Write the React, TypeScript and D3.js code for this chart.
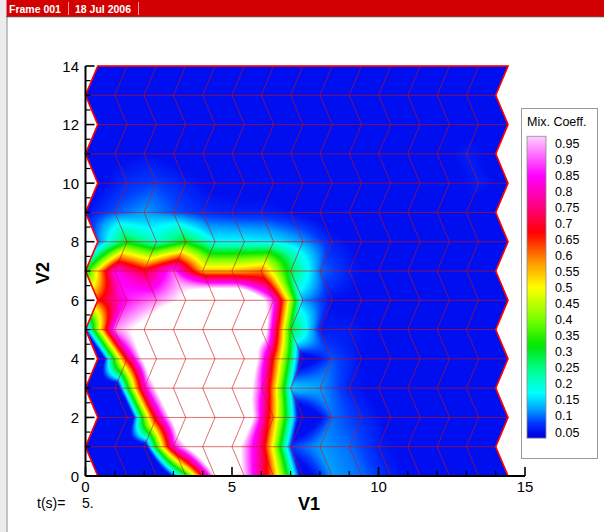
import React, { useMemo } from 'react';
import * as d3 from 'd3';

const W = 604;
const H = 532;
const FONT = '"Liberation Sans", Arial, Helvetica, sans-serif';

// Tick values and labels
const V1_MAJOR = [0, 5, 10, 15];
const V1_MINOR = [1, 2, 3, 4, 6, 7, 8, 9, 11, 12, 13, 14];
const V2_MAJOR = [0, 2, 4, 6, 8, 10, 12, 14];
const V2_MINOR = [0.5, 1, 1.5, 2.5, 3, 3.5, 4.5, 5, 5.5, 6.5, 7, 7.5, 8.5, 9, 9.5, 10.5, 11, 11.5, 12.5, 13, 13.5];
const LEGEND_LEVELS = [0.95, 0.9, 0.85, 0.8, 0.75, 0.7, 0.65, 0.6, 0.55, 0.5, 0.45, 0.4, 0.35, 0.3, 0.25, 0.2, 0.15, 0.1, 0.05];
const LEGEND_LABELS = ['0.95', '0.9', '0.85', '0.8', '0.75', '0.7', '0.65', '0.6', '0.55', '0.5', '0.45', '0.4', '0.35', '0.3', '0.25', '0.2', '0.15', '0.1', '0.05'];

// Mesh: 15 rows (V2 = 0..14) of 15 nodes; even rows are shifted right in V1
const ROW_SHIFT = 0.42;
const NODE_COUNT = 15;

// Mixing coefficient at mesh nodes, row by row (V2 = 0 at first row).
// Values outside the legend range are flooded with the end colours.
const MIX_ROWS: number[][] = [
  /* V2=0  */ [-0.05, -0.1, -0.15, 0.26, 1.0, 0.97, 0.58, 0.0, 0.12, 0.1, 0.06, 0.04, 0.04, 0.04, 0.04],
  /* V2=1  */ [-0.05, -0.05, -0.03, 0.84, 1.2, 1.1, 0.75, 0.08, 0.12, 0.1, 0.06, 0.04, 0.04, 0.04, 0.04],
  /* V2=2  */ [-0.1, -0.15, 0.74, 1.3, 1.3, 1.2, 0.57, -0.05, 0.1, 0.07, 0.04, 0.04, 0.04, 0.04, 0.04],
  /* V2=3  */ [-0.05, -0.1, 0.81, 1.3, 1.3, 1.3, 0.87, 0.15, 0.12, 0.06, 0.04, 0.04, 0.04, 0.04, 0.04],
  /* V2=4  */ [-0.15, 0.7, 1.3, 1.3, 1.3, 1.3, 0.65, 0.0, 0.09, 0.05, 0.04, 0.04, 0.05, 0.04, 0.04],
  /* V2=5  */ [0.08, 0.93, 1.05, 1.3, 1.3, 1.3, 1.15, 0.3, 0.06, 0.06, 0.04, 0.04, 0.04, 0.04, 0.04],
  /* V2=6  */ [0.66, 0.86, 0.93, 1.02, 1.3, 1.3, 0.88, 0.12, 0.05, 0.04, 0.04, 0.04, 0.04, 0.04, 0.04],
  /* V2=7  */ [0.29, 0.85, 0.7, 0.9, 0.55, 0.55, 0.6, 0.28, 0.1, 0.06, 0.04, 0.04, 0.04, 0.04, 0.04],
  /* V2=8  */ [0.1, 0.3, 0.2, 0.3, 0.17, 0.17, 0.16, 0.12, 0.06, 0.04, 0.04, 0.04, 0.04, 0.04, 0.04],
  /* V2=9  */ [0.05, 0.09, 0.12, 0.09, 0.07, 0.06, 0.06, 0.05, 0.04, 0.04, 0.04, 0.04, 0.04, 0.04, 0.04],
  /* V2=10 */ [0.04, 0.07, 0.08, 0.06, 0.04, 0.04, 0.04, 0.04, 0.04, 0.04, 0.04, 0.04, 0.04, 0.06, 0.04],
  /* V2=11 */ [0.04, 0.04, 0.05, 0.04, 0.04, 0.04, 0.04, 0.04, 0.04, 0.04, 0.04, 0.04, 0.04, 0.06, 0.04],
  /* V2=12 */ [0.04, 0.04, 0.04, 0.04, 0.04, 0.04, 0.04, 0.04, 0.04, 0.04, 0.04, 0.04, 0.04, 0.04, 0.04],
  /* V2=13 */ [0.04, 0.04, 0.04, 0.04, 0.04, 0.04, 0.04, 0.04, 0.04, 0.04, 0.04, 0.04, 0.04, 0.04, 0.04],
  /* V2=14 */ [0.04, 0.04, 0.04, 0.04, 0.04, 0.04, 0.04, 0.04, 0.04, 0.04, 0.04, 0.04, 0.04, 0.04, 0.04],
];

// Rainbow colour map
const CMAP_STOPS = [0.0, 0.04, 0.08, 0.12, 0.17, 0.24, 0.32, 0.4, 0.5, 0.58, 0.67, 0.76, 0.85, 0.92, 1.0];
const CMAP_COLORS = [
  '#0000aa', '#0000eb', '#003cff', '#00a0ff', '#00ffff', '#00ff96', '#00e600', '#78ff00',
  '#ffff00', '#ff9600', '#ff0000', '#ff008c', '#ff00ff', '#ff78ff', '#ffffff',
];
const FLOOD_MIN = 0.05;
const FLOOD_MAX = 1.0;

const xScale = d3.scaleLinear().domain([0, 15]).range([85.5, 525]);
const yScale = d3.scaleLinear().domain([0, 14]).range([476, 66]);
const color = d3.scaleLinear<string>().domain(CMAP_STOPS).range(CMAP_COLORS).interpolate(d3.interpolateRgb).clamp(true);
const legendY = d3.scaleLinear().domain([0.05, 0.95]).range([432, 143.3]);

const rowOffset = (j: number) => (j % 2 === 0 ? ROW_SHIFT : 0);
const nodeX = (i: number, j: number) => i + rowOffset(j);

function renderField(): string {
  const canvas = document.createElement('canvas');
  canvas.width = W;
  canvas.height = H;
  const ctx = canvas.getContext('2d');
  if (!ctx) return '';
  const img = ctx.createImageData(W, H);
  const LUT_N = 2000;
  const lutLo = -0.5;
  const lutHi = 1.5;
  const lut: [number, number, number][] = [];
  for (let k = 0; k <= LUT_N; k++) {
    const val = lutLo + (k / LUT_N) * (lutHi - lutLo);
    const c = d3.rgb(color(Math.max(FLOOD_MIN, Math.min(FLOOD_MAX, val))));
    lut.push([c.r, c.g, c.b]);
  }
  const nRows = MIX_ROWS.length;
  const px0 = Math.floor(xScale(0)) - 1;
  const px1 = Math.ceil(xScale(15)) + 1;
  const py0 = Math.floor(yScale(14)) - 1;
  const py1 = Math.ceil(yScale(0)) + 1;
  for (let py = py0; py <= py1; py++) {
    const y = yScale.invert(py + 0.5);
    if (y < 0 || y > nRows - 1) continue;
    const j = Math.min(nRows - 2, Math.floor(y));
    const v = y - j;
    const o0 = rowOffset(j);
    const o1 = rowOffset(j + 1);
    for (let px = px0; px <= px1; px++) {
      const x = xScale.invert(px + 0.5);
      const xr = x - (o0 + v * (o1 - o0));
      if (xr < 0 || xr > NODE_COUNT - 1) continue;
      const i = Math.min(NODE_COUNT - 2, Math.floor(xr));
      const u = xr - i;
      const r0 = MIX_ROWS[j];
      const r1 = MIX_ROWS[j + 1];
      const val =
        (1 - u) * (1 - v) * r0[i] + u * (1 - v) * r0[i + 1] + (1 - u) * v * r1[i] + u * v * r1[i + 1];
      const k = Math.max(0, Math.min(LUT_N, Math.round(((val - lutLo) / (lutHi - lutLo)) * LUT_N)));
      const c = lut[k];
      const idx = (py * W + px) * 4;
      img.data[idx] = c[0];
      img.data[idx + 1] = c[1];
      img.data[idx + 2] = c[2];
      img.data[idx + 3] = 255;
    }
  }
  ctx.putImageData(img, 0, 0);
  return canvas.toDataURL();
}

export default function App() {
  const fieldUrl = useMemo(() => renderField(), []);

  const nRows = MIX_ROWS.length;
  const rowsIdx = d3.range(nRows);
  const colsIdx = d3.range(NODE_COUNT);

  const line = d3
    .line<[number, number]>()
    .x((d) => xScale(d[0]))
    .y((d) => yScale(d[1]));

  const hLines = rowsIdx.map((j) =>
    line([
      [nodeX(0, j), j],
      [nodeX(NODE_COUNT - 1, j), j],
    ])
  );
  const vLines = colsIdx.map((i) => line(rowsIdx.map((j) => [nodeX(i, j), j] as [number, number])));

  const outlinePts: [number, number][] = [
    ...colsIdx.map((i) => [nodeX(i, 0), 0] as [number, number]),
    ...rowsIdx.map((j) => [nodeX(NODE_COUNT - 1, j), j] as [number, number]),
    ...colsIdx.slice().reverse().map((i) => [nodeX(i, nRows - 1), nRows - 1] as [number, number]),
    ...rowsIdx.slice().reverse().map((j) => [nodeX(0, j), j] as [number, number]),
  ];
  const outline = line(outlinePts) + 'Z';

  const gradId = 'legendGrad';
  const barTop = legendY(0.972);
  const barBot = legendY(0.031);
  const gradStops = d3.range(0, 61).map((k) => {
    const t = k / 60;
    const val = 0.972 - t * (0.972 - 0.031);
    return { offset: t, c: color(val) };
  });

  return (
    <svg
      width={W}
      height={H}
      style={{ position: 'absolute', left: 0, top: 0, fontFamily: FONT }}
      xmlns="http://www.w3.org/2000/svg"
    >
      <defs>
        <linearGradient id={gradId} x1="0" y1="0" x2="0" y2="1">
          {gradStops.map((s, k) => (
            <stop key={k} offset={s.offset} stopColor={s.c} />
          ))}
        </linearGradient>
      </defs>
      <rect x={0} y={0} width={W} height={H} fill="#ffffff" />
      {/* window frame */}
      <rect x={0} y={0} width={6.5} height={H} fill="#ececec" />
      <line x1={7} y1={16} x2={7} y2={H} stroke="#8a8a8a" strokeWidth={1} />
      {/* top bar */}
      <rect x={6.5} y={0} width={W - 6.5} height={16.5} fill="#d20000" />
      <line x1={6.5} y1={16.75} x2={W} y2={16.75} stroke="#5a0000" strokeWidth={0.8} />
      <text x={9} y={13} fontSize={10.5} fontWeight="bold" fill="#ffffff">
        Frame 001
      </text>
      <line x1={68.5} y1={2} x2={68.5} y2={15} stroke="#ff9c9c" strokeWidth={1} />
      <text x={75} y={13} fontSize={10.5} fontWeight="bold" fill="#ffffff">
        18 Jul 2006
      </text>
      <line x1={138.5} y1={2} x2={138.5} y2={15} stroke="#ff9c9c" strokeWidth={1} />

      {/* contour field */}
      {fieldUrl && <image href={fieldUrl} x={0} y={0} width={W} height={H} />}

      {/* mesh */}
      <g fill="none" stroke="#cc1010" strokeOpacity={0.6} strokeWidth={1}>
        {hLines.map((d, k) => (
          <path key={'h' + k} d={d || ''} />
        ))}
        {vLines.map((d, k) => (
          <path key={'v' + k} d={d || ''} />
        ))}
      </g>
      <path d={outline} fill="none" stroke="#ff0000" strokeWidth={1.6} strokeLinejoin="miter" />

      {/* axes */}
      <g stroke="#000" fill="none">
        <line x1={xScale(0)} y1={yScale(0)} x2={xScale(15)} y2={yScale(0)} strokeWidth={2} />
        <line x1={xScale(0)} y1={yScale(0)} x2={xScale(0)} y2={yScale(14)} strokeWidth={2} />
        {V1_MAJOR.map((t) => (
          <line key={'xM' + t} x1={xScale(t)} x2={xScale(t)} y1={yScale(0)} y2={yScale(0) - 9} strokeWidth={1.6} />
        ))}
        {V1_MINOR.map((t) => (
          <line key={'xm' + t} x1={xScale(t)} x2={xScale(t)} y1={yScale(0)} y2={yScale(0) - 5} strokeWidth={1.2} />
        ))}
        {V2_MAJOR.map((t) => (
          <line key={'yM' + t} x1={xScale(0)} x2={xScale(0) + 9} y1={yScale(t)} y2={yScale(t)} strokeWidth={1.6} />
        ))}
        {V2_MINOR.map((t) => (
          <line key={'ym' + t} x1={xScale(0)} x2={xScale(0) + 5} y1={yScale(t)} y2={yScale(t)} strokeWidth={1.2} />
        ))}
      </g>
      <g fontSize={15} fill="#000">
        {V1_MAJOR.map((t) => (
          <text key={'xl' + t} x={xScale(t)} y={492} textAnchor="middle">
            {t}
          </text>
        ))}
        {V2_MAJOR.map((t) => (
          <text key={'yl' + t} x={79} y={yScale(t) + 5.5} textAnchor="end">
            {t}
          </text>
        ))}
      </g>
      <text x={298} y={510} fontSize={18} fontWeight="bold" fill="#000">
        V1
      </text>
      <text transform="translate(49,273) rotate(-90)" fontSize={18} fontWeight="bold" fill="#000" textAnchor="middle">
        V2
      </text>
      <text x={37} y={508} fontSize={14} fill="#000">
        t(s)=
      </text>
      <text x={82} y={508} fontSize={14} fill="#000">
        5.
      </text>

      {/* legend */}
      <rect x={521.5} y={108.5} width={76} height={350} fill="#ffffff" stroke="#9a9a9a" strokeWidth={1} />
      <text x={527} y={126} fontSize={12.5} fill="#000">
        Mix. Coeff.
      </text>
      <rect x={527} y={barTop} width={19} height={barBot - barTop} fill={`url(#${gradId})`} stroke="#8a8a8a" strokeWidth={0.8} />
      <g fontSize={12.5} fill="#000">
        {LEGEND_LEVELS.map((v, k) => (
          <text key={'lg' + k} x={555} y={legendY(v) + 4.5}>
            {LEGEND_LABELS[k]}
          </text>
        ))}
      </g>
    </svg>
  );
}
